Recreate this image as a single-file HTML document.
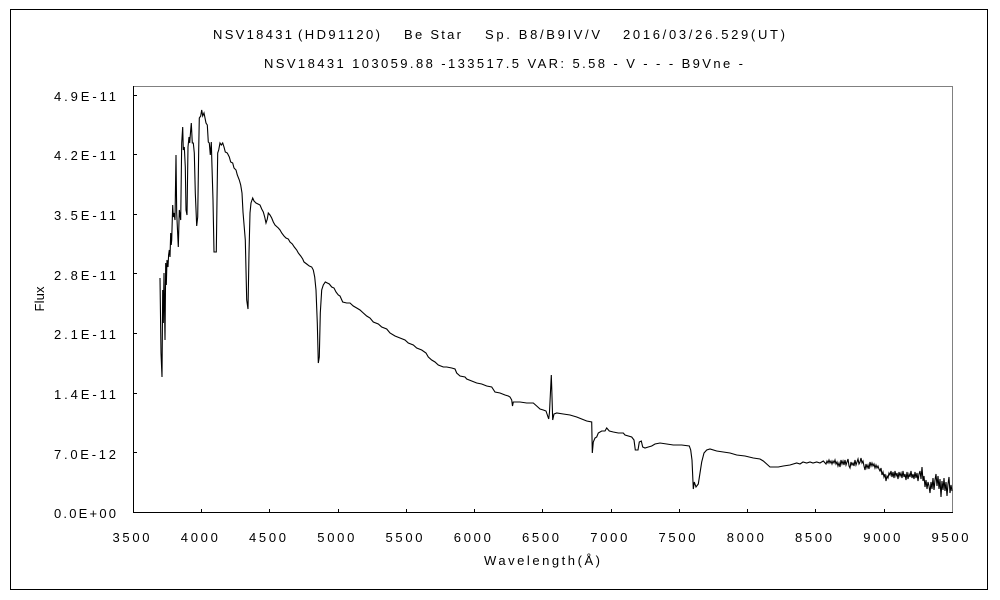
<!DOCTYPE html>
<html>
<head>
<meta charset="utf-8">
<style>
html,body{margin:0;padding:0;background:#fff;}
svg{display:block;}
text{font-family:"Liberation Sans","IPAGothic",sans-serif;font-size:13px;fill:#000;}
</style>
</head>
<body>
<svg width="1000" height="600" viewBox="0 0 1000 600" xmlns="http://www.w3.org/2000/svg">
<rect x="0" y="0" width="1000" height="600" fill="#fff"/>
<rect x="10.5" y="9.5" width="977" height="580" fill="none" stroke="#000" stroke-width="1"/>

<!-- titles -->
<text x="213" y="39" textLength="79" lengthAdjust="spacing">NSV18431</text>
<text x="298" y="39" textLength="82" lengthAdjust="spacing">(HD91120)</text>
<text x="404" y="39" textLength="57" lengthAdjust="spacing">Be Star</text>
<text x="485" y="39" textLength="115" lengthAdjust="spacing">Sp. B8/B9IV/V</text>
<text x="623" y="39" textLength="162" lengthAdjust="spacing">2016/03/26.529(UT)</text>
<text x="264" y="68" textLength="479" lengthAdjust="spacing">NSV18431 103059.88 -133517.5 VAR: 5.58 - V - - - B9Vne -</text>

<!-- plot frame -->
<line x1="133" y1="86.5" x2="952" y2="86.5" stroke="#808080" stroke-width="1"/>
<line x1="952.5" y1="86" x2="952.5" y2="513" stroke="#808080" stroke-width="1"/>
<line x1="133.5" y1="86" x2="133.5" y2="513" stroke="#000" stroke-width="1"/>
<line x1="133" y1="512.5" x2="953" y2="512.5" stroke="#000" stroke-width="1"/>

<!-- y ticks -->
<g stroke="#000" stroke-width="1">
<line x1="133" y1="452.5" x2="137" y2="452.5"/>
<line x1="133" y1="393.5" x2="137" y2="393.5"/>
<line x1="133" y1="333.5" x2="137" y2="333.5"/>
<line x1="133" y1="273.5" x2="137" y2="273.5"/>
<line x1="133" y1="214.5" x2="137" y2="214.5"/>
<line x1="133" y1="154.5" x2="137" y2="154.5"/>
<line x1="133" y1="95.5" x2="137" y2="95.5"/>
</g>
<!-- x ticks -->
<g stroke="#000" stroke-width="1">
<line x1="201.5" y1="509" x2="201.5" y2="512"/>
<line x1="269.5" y1="509" x2="269.5" y2="512"/>
<line x1="338.5" y1="509" x2="338.5" y2="512"/>
<line x1="406.5" y1="509" x2="406.5" y2="512"/>
<line x1="474.5" y1="509" x2="474.5" y2="512"/>
<line x1="542.5" y1="509" x2="542.5" y2="512"/>
<line x1="611.5" y1="509" x2="611.5" y2="512"/>
<line x1="679.5" y1="509" x2="679.5" y2="512"/>
<line x1="747.5" y1="509" x2="747.5" y2="512"/>
<line x1="815.5" y1="509" x2="815.5" y2="512"/>
<line x1="884.5" y1="509" x2="884.5" y2="512"/>
</g>

<!-- y labels -->
<text x="54" y="518" textLength="62" lengthAdjust="spacing">0.0E+00</text>
<text x="54" y="459" textLength="62" lengthAdjust="spacing">7.0E-12</text>
<text x="54" y="399" textLength="62" lengthAdjust="spacing">1.4E-11</text>
<text x="54" y="339" textLength="62" lengthAdjust="spacing">2.1E-11</text>
<text x="54" y="280" textLength="62" lengthAdjust="spacing">2.8E-11</text>
<text x="54" y="220" textLength="62" lengthAdjust="spacing">3.5E-11</text>
<text x="54" y="160" textLength="62" lengthAdjust="spacing">4.2E-11</text>
<text x="54" y="101" textLength="62" lengthAdjust="spacing">4.9E-11</text>

<!-- x labels -->
<g text-anchor="middle">
<text x="131" y="542" textLength="37" lengthAdjust="spacing">3500</text>
<text x="199.3" y="542" textLength="37" lengthAdjust="spacing">4000</text>
<text x="267.5" y="542" textLength="37" lengthAdjust="spacing">4500</text>
<text x="335.8" y="542" textLength="37" lengthAdjust="spacing">5000</text>
<text x="404" y="542" textLength="37" lengthAdjust="spacing">5500</text>
<text x="472.3" y="542" textLength="37" lengthAdjust="spacing">6000</text>
<text x="540.5" y="542" textLength="37" lengthAdjust="spacing">6500</text>
<text x="608.8" y="542" textLength="37" lengthAdjust="spacing">7000</text>
<text x="677" y="542" textLength="37" lengthAdjust="spacing">7500</text>
<text x="745.3" y="542" textLength="37" lengthAdjust="spacing">8000</text>
<text x="813.5" y="542" textLength="37" lengthAdjust="spacing">8500</text>
<text x="881.8" y="542" textLength="37" lengthAdjust="spacing">9000</text>
<text x="950" y="542" textLength="37" lengthAdjust="spacing">9500</text>
</g>

<text x="484" y="565" textLength="116" lengthAdjust="spacing">Wavelength(Å)</text>
<text transform="translate(44,299) rotate(-90)" text-anchor="middle" textLength="25" lengthAdjust="spacing">Flux</text>

<!-- spectrum -->
<polyline fill="none" stroke="#000" stroke-width="1.1" stroke-linejoin="miter" points="
160,278 161,353 162,377 162.7,290 163.3,323 164,273 165,340 165.7,263 166.3,285 167,260 168,267 168.6,255 169.3,250 170,257 170.7,233 171.2,245 171.7,240 172.7,205 173.3,217 174,213 175,220 176,155 176.7,213 177.5,230 178.3,247 179.3,210 180.7,220 181.7,143 182.7,127 183.3,150 184.3,147 185.3,167 186,210 187,215 188,147 189,137 189.7,143 190.7,130 191.3,123 192.3,143 193.3,143 194.3,153 195.3,193 196.7,226 197.7,217 198.7,150 199.3,118 200.7,116 201.7,110 202.7,116 204,113 205,118 206,123 207.3,125 208.3,142 209.3,143 210.3,155 211.3,142 212,167 213,200 214,252 216.3,252 217,200 217.7,153 218.7,150 220,143 221.3,145 222.7,143 224,147 225.3,152 227.3,153 229.3,157 230.7,162 232.7,163 234,168 236,170 237.3,175 239.3,180 240.7,185 242,193 243,212 245.3,240 246.7,300 248,309 249,253 250,213 251,203 252.7,198 254,201 256,203 258,204 260,205 261.7,209 263.3,212 264.7,217 266,223 267.3,219 268.3,213 270,215 271.7,218 273.3,222 275,225 278.3,228 280,230 281.7,233 284,236 286,238 288.3,239 290,242 292.3,244 294.3,247 296.7,250 298.3,253 300.7,256 302.7,259 304,262 306.7,264 309.3,266 311.7,267 313.3,270 314.7,277 316,290 317.3,323 318.3,363 319.3,357 320.3,313 321.7,290 323.3,285 325.3,282 327.3,283 329.3,284 331.7,287 334,288 336,292 338.3,295 340,296 342.7,302 346.7,303 350,303 353.3,306 356.7,308 360,310 363.3,313 366.7,316 370,318 373.3,322 378.3,324 381.7,327 386.7,329 390,333 395,336 400,338 405,340 408.3,343 413.3,345 416.7,348 421.7,350 426,353 428.3,357 431.7,360 435,362 438.3,365 443.3,367 446.7,367 451.7,368 455,369 456.7,373 460,376 465,377 466.7,379 471.7,381 476.7,383 481.7,384 486.7,386 491.7,387 495,392 500,393 505,395 508.3,396 510,397 511.7,400 512.5,406 513.3,402 520,402 526.7,403 533.3,403 536.7,406 540,409 543.3,410 546,411 548.7,419 549.5,412 551.3,375 551.8,390 552.7,420 554,414 556.7,413 563.3,414 570,415 576.7,417 581.7,419 586.7,421 591.7,422 592.3,453 593.3,442 595,438 596.7,437 598.3,433 601.7,431 605,431 606.7,428 609.3,431 613.3,432 618.3,433 623.3,433 625,435 631.7,437 634,440 635.3,450 638,450 639.3,442 641.3,441 642.7,447 645,448 648.3,447 651.7,446 655,444 660,443 666.7,444 673.3,445 681.7,445 689.3,446 690.7,450 692,460 693.3,489 694.3,482 696,487 698.3,484 700,473 701.7,462 704,453 706.7,450 710,449 716.7,451 723.3,452 730,453 736.7,455 745,456 753.3,458 760,459 763.3,461 766.7,464 770,467 773.3,467 778.3,467 783.3,466 790,465 796.7,463 800,464 803,462 806.7,463 810,462 813,463 816.7,462 820,463 823.3,461 826,464 827,461 828,463 829,460 830,463 831,461 832,464 833,461 834,463 835,460 836,464 837,462 838,466 839,463 840,467 841,460 842,464 843,461 844,465 845,460 846,465 847,462 848,459 849,466 850,468 851,462 852,465 853,463 854,466 855,460 856,465 857,462 858,459 859,464 860,462 861,458 862,463 863,461 864,466 865,470 866,464 867,468 868,465 869,469 870,462 871,466 872,463 873,466 874,464 875,468 876,465 877,468 878,466 879,469 880,471 881,468 882,475 883,472 884,477 885,474 886,481 887,476 888,478 889,473 890,475 891,471 892,477 893,472 894,478 895,471 896,476 897,473 898,479 899,472 900,476 901,473 902,478 903,471 904,477 905,474 906,480 907,472 908,479 909,474 910,477 911,471 912,478 913,474 914,479 915,472 916,478 917,473 918,481 919,474 920,471 921,479 922,467 923,481 924,476 925,487 926,480 927,489 928,482 929,486 930,493 931,482 932,489 933,478 934,490 935,480 936,474 937,486 938,476 939,489 940,479 941,497 942,481 943,490 944,478 945,491 946,482 947,496 948,484 949,477 950,493 951,485 952,491
"/>
</svg>
</body>
</html>
